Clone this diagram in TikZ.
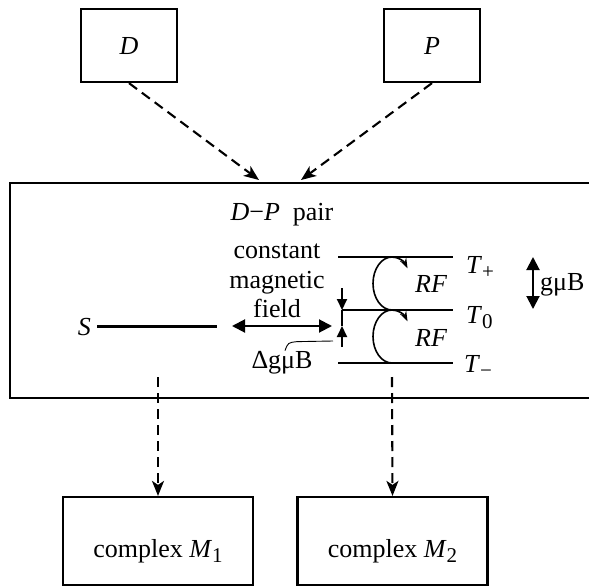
\documentclass[tikz,border=0pt]{standalone}
\usepackage{fontspec}
\setmainfont{Liberation Serif}
\usepackage{tikz}
\usetikzlibrary{arrows.meta, positioning, calc}
\newcommand{\figfont}{\fontsize{26}{29.5}\selectfont}
\newcommand{\lowsub}[1]{\raisebox{-5pt}{\fontsize{21}{22}\selectfont #1}}
\tikzset{
  statebox/.style={rectangle, draw=black, line width=2.2pt, inner sep=0pt,
    align=center, font=\figfont},
  srcbox/.style={statebox, minimum width=96pt, text height=46pt, text depth=27pt},
  prodbox/.style={statebox, minimum width=190pt, text height=60pt, text depth=28pt},
  pairbox/.style={rectangle, draw=black, line width=2.2pt,
    minimum width=580pt, minimum height=215pt},
  dasharrow/.style={-{Stealth[length=15pt,width=12pt,inset=4pt]}, line width=2.1pt,
    dash pattern=on 10pt off 6pt},
  levelline/.style={line width=2.1pt},
  dimarrow/.style={-{Triangle[length=11pt,width=10pt]}, line width=2pt},
  dblarrow/.style={{Triangle[length=13pt,width=13pt]}-{Triangle[length=13pt,width=13pt]},
    line width=2pt},
  rfloop/.style={-{Stealth[length=10pt,width=7pt]}, line width=1.6pt},
  txt/.style={inner sep=0pt, font=\figfont}
}

\begin{document}
\begin{tikzpicture}[x=1pt, y=-1pt]
  \useasboundingbox (0,0) rectangle (589,586);

  % Donor and acceptor
  \node[srcbox] (D) at (129,45.5) {\textit{D}};
  \node[srcbox] (P) at (432,45.5) {\textit{P}};

  % Radical pair box
  \node[pairbox] (pair) at (300,290.5) {};
  \coordinate (inD) at (259,180);
  \coordinate (inP) at (301,180);
  \draw[dasharrow] (D.south) -- (inD);
  \draw[dasharrow] (P.south) -- (inP);
  \node[txt, anchor=base] (title) at (282,220) {\textit{D}−\textit{P}\ \ pair};

  % Singlet level
  \node[txt, anchor=base east] (S) at (91,335) {\textit{S}};
  \coordinate (Send) at (217,326);
  \draw[levelline] ([xshift=6pt]S.east) -- (Send |- S.east);

  % Field label and arrow
  \node[txt, align=center] (field) at (277,281) {constant\\magnetic\\field};
  \coordinate (fl) at (232,326);
  \coordinate (fr) at (332,326);
  \draw[dblarrow] (fl) -- (fr);

  % Triplet levels
  \draw[levelline] (338,257) -- (453,257);
  \draw[levelline] (342,310) -- (453,310);
  \draw[levelline] (338,363) -- (453,363);
  \node[txt, anchor=base west] (Tp) at (466,273) {\textit{T}\lowsub{+}};
  \node[txt, anchor=base west] (T0) at (466,323) {\textit{T}\lowsub{0}};
  \node[txt, anchor=base west] (Tm) at (464,372) {\textit{T}\lowsub{−}};

  % RF transitions
  \draw[rfloop] (392,310) arc[start angle=90, end angle=325, x radius=19, y radius=26.5];
  \draw[rfloop] (392,363) arc[start angle=90, end angle=325, x radius=19, y radius=26.5];
  \node[txt, anchor=base west] (RF1) at (415,292) {\textit{RF}};
  \node[txt, anchor=base west] (RF2) at (415,346) {\textit{RF}};

  % S-T0 gap
  \draw[dimarrow] (342,288) -- (342,310);
  \draw[line width=2pt] (342,310) -- (342,326);
  \draw[dimarrow] (342,347) -- (342,326);
  \node[txt, anchor=base] (dg) at (282,368) {ΔgμB};
  \coordinate (dgend) at (333,341);
  \draw[line width=0.9pt] ([xshift=3pt]dg.north) .. controls ($(dg.north)+(6,-8)$) .. ($(dg.north)+(15,-9)$) -- (dgend);

  % Triplet splitting
  \draw[dblarrow] (533,257) -- (533,309);
  \node[txt, anchor=base west] (gb) at (540,290) {gμB};

  % Products
  \node[prodbox] (M1) at (158,541) {complex \textit{M}\lowsub{1}};
  \node[prodbox] (M2) at (392.5,541) {complex \textit{M}\lowsub{2}};
  \coordinate (outM1) at (158,377);
  \coordinate (outM2) at (392,377);
  \draw[dasharrow] (outM1) -- (M1.north);
  \draw[dasharrow] (outM2) -- (M2.north);
\end{tikzpicture}
\end{document}
